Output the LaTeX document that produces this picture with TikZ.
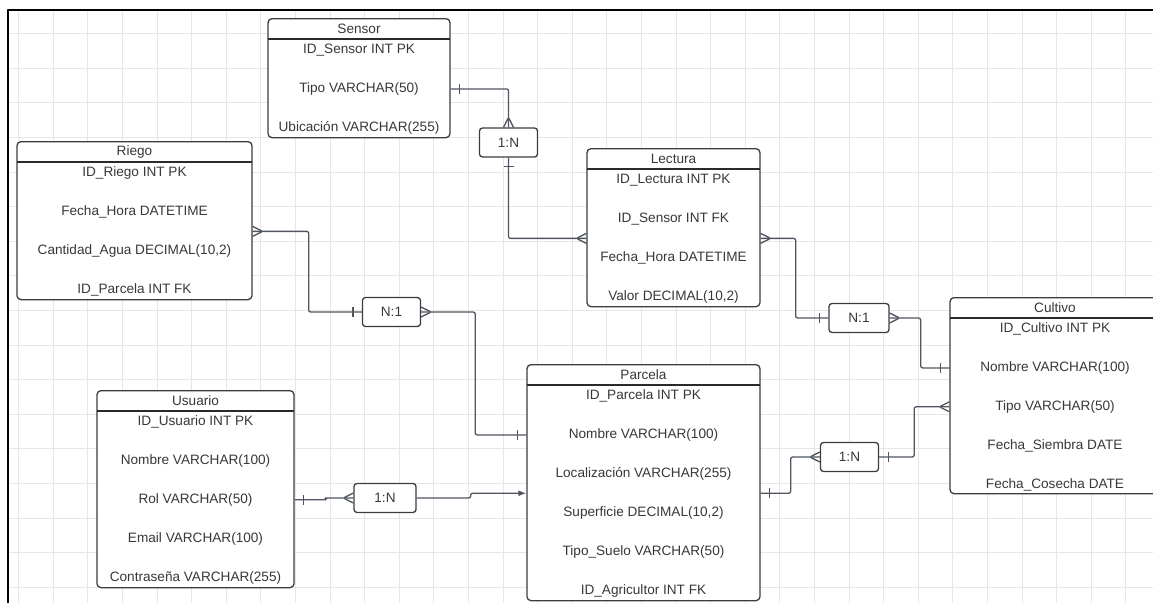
\documentclass[tikz,border=0pt]{standalone}
\usepackage{fontspec}
\setmainfont{Liberation Sans}
\usetikzlibrary{arrows.meta,calc,decorations.markings}

\definecolor{erframe}{HTML}{3C3C3C}
\definecolor{erheader}{HTML}{2A2A2A}
\definecolor{ertext}{HTML}{383838}
\definecolor{erlink}{HTML}{4F5560}
\definecolor{ergrid}{HTML}{E6E6E6}

\begin{document}
\begin{tikzpicture}[
  x=1pt,
  y=-1pt,
  line join=round,
  pageborder/.style={draw=black,line width=2.6},
  gridline/.style={draw=ergrid,line width=0.8},
  entity/.style={draw=erframe,fill=white,line width=1.3,rounded corners=4,anchor=north,inner sep=0},
  headline/.style={draw=erheader,line width=1.8},
  field/.style={text=ertext,font=\fontsize{13.6}{16}\selectfont,inner sep=0},
  rel/.style={draw=erframe,fill=white,line width=1.3,rounded corners=3,minimum width=58,minimum height=29,inner sep=0,text=ertext,font=\fontsize{13.6}{16}\selectfont},
  link/.style={draw=erlink,line width=1.3,rounded corners=2},
  tick/.style={draw=erlink,line width=1.3},
  startBar/.style={postaction={decorate,decoration={markings,mark=at position 9pt with {\draw[tick] (0,-5pt) -- (0,5pt);}}}},
  endBar/.style={postaction={decorate,decoration={markings,mark=at position -9pt with {\draw[tick] (0,-5pt) -- (0,5pt);}}}},
  startCrow/.style={postaction={decorate,decoration={markings,mark=at position 10pt with {\draw[tick] (-10pt,5pt) -- (0,0) -- (-10pt,-5pt);}}}},
  endCrow/.style={postaction={decorate,decoration={markings,mark=at position -10pt with {\draw[tick] (10pt,5pt) -- (0,0) -- (10pt,-5pt);}}}}
]
  % Keep the cropped screenshot frame.
  \useasboundingbox (0,0) rectangle (1153,603);
  \clip (0,0) rectangle (1153,603);

  % Light background grid of the drawing canvas.
  \foreach \k in {0,...,33}
    \draw[gridline] (18.5+34.6*\k,10) -- (18.5+34.6*\k,603);
  \foreach \k in {1,...,17}
    \draw[gridline] (8,-1+34.6*\k) -- (1153,-1+34.6*\k);
  \draw[pageborder] (8,603) -- (8,10) -- (1153,10);

  % Sensor table
  \node[entity,minimum width=182,minimum height=119] (sensor) at (359,18) {};
  \node[field] (sensorTitle) at (359,28.5) {Sensor};
  \draw[headline] (268,39) -- (450,39);
  \foreach \txt [count=\i from 0] in {ID\_Sensor INT PK,Tipo VARCHAR(50),Ubicación VARCHAR(255)}
    \node[field] (sensorRow\i) at (359,50+38.9*\i) {\txt};

  % Riego table
  \node[entity,minimum width=235,minimum height=158] (riego) at (134.5,141) {};
  \node[field] (riegoTitle) at (134.5,151.5) {Riego};
  \draw[headline] (17,162) -- (252,162);
  \foreach \txt [count=\i from 0] in {ID\_Riego INT PK,Fecha\_Hora DATETIME,{Cantidad\_Agua DECIMAL(10,2)},ID\_Parcela INT FK}
    \node[field] (riegoRow\i) at (134.5,173+38.9*\i) {\txt};

  % Lectura table
  \node[entity,minimum width=173,minimum height=158] (lectura) at (673.5,148) {};
  \node[field] (lecturaTitle) at (673.5,158.5) {Lectura};
  \draw[headline] (587,169) -- (760,169);
  \foreach \txt [count=\i from 0] in {ID\_Lectura INT PK,ID\_Sensor INT FK,Fecha\_Hora DATETIME,{Valor DECIMAL(10,2)}}
    \node[field] (lecturaRow\i) at (673.5,180+38.9*\i) {\txt};

  % Cultivo table (runs past the right edge)
  \node[entity,minimum width=210,minimum height=196] (cultivo) at (1055,297) {};
  \node[field] (cultivoTitle) at (1055,307.5) {Cultivo};
  \draw[headline] (950,318) -- (1160,318);
  \foreach \txt [count=\i from 0] in {ID\_Cultivo INT PK,Nombre VARCHAR(100),Tipo VARCHAR(50),Fecha\_Siembra DATE,Fecha\_Cosecha DATE}
    \node[field] (cultivoRow\i) at (1055,329+38.9*\i) {\txt};

  % Parcela table
  \node[entity,minimum width=233,minimum height=236] (parcela) at (643.5,364) {};
  \node[field] (parcelaTitle) at (643.5,374.5) {Parcela};
  \draw[headline] (527,385) -- (760,385);
  \foreach \txt [count=\i from 0] in {ID\_Parcela INT PK,Nombre VARCHAR(100),Localización VARCHAR(255),{Superficie DECIMAL(10,2)},Tipo\_Suelo VARCHAR(50),ID\_Agricultor INT FK}
    \node[field] (parcelaRow\i) at (643.5,396+38.9*\i) {\txt};

  % Usuario table
  \node[entity,minimum width=197,minimum height=197] (usuario) at (195.5,390) {};
  \node[field] (usuarioTitle) at (195.5,400.5) {Usuario};
  \draw[headline] (97,411) -- (294,411);
  \foreach \txt [count=\i from 0] in {ID\_Usuario INT PK,Nombre VARCHAR(100),Rol VARCHAR(50),Email VARCHAR(100),Contraseña VARCHAR(255)}
    \node[field] (usuarioRow\i) at (195.5,422+38.9*\i) {\txt};

  % Attachment points between two rows.
  \coordinate (riegoMid) at ($(riegoRow1)!.5!(riegoRow2)$);
  \coordinate (lecturaMid) at ($(lecturaRow1)!.5!(lecturaRow2)$);
  \coordinate (parcelaMid) at ($(parcelaRow2)!.5!(parcelaRow3)$);

  % Cardinality boxes
  \node[rel] (relSensor) at (508.5,142.5) {1:N};
  \node[rel] (relRiego) at (391.5,312) {N:1};
  \node[rel,minimum width=60] (relLectura) at (859,318) {N:1};
  \node[rel,minimum width=62] (relUsuario) at (385,498) {1:N};
  \node[rel] (relParcela) at (849.5,457) {1:N};

  % Connectors: bar = one, crow's foot = many.
  \draw[link,startBar,endCrow] (sensorRow1 -| sensor.east) -| (relSensor.north);
  \draw[link,startBar,endCrow] (relSensor.south) |- (lecturaMid -| lectura.west);
  \draw[link,startCrow,endBar] (riegoMid -| riego.east) -- ++(56,0) |- (relRiego.west);
  \draw[link,startCrow,endBar] (relRiego.east) -- ++(54,0) |- (parcelaRow1 -| parcela.west);
  \draw[link,startCrow,endBar] (lecturaMid -| lectura.east) -- ++(35,0) |- (relLectura.west);
  \draw[link,startCrow,endBar] (relLectura.east) -- ++(31,0) |- (cultivoRow1 -| cultivo.west);
  \draw[link,startBar,endCrow] (usuarioRow2 -| usuario.east) -- ++(31,0) |- (relUsuario.west);
  \draw[link,-{Latex[length=8pt,width=6pt]}] (relUsuario.east) -- ++(54,0) |- (parcelaMid -| parcela.west);
  \draw[link,startBar,endCrow] (parcelaMid -| parcela.east) -- ++(30,0) |- (relParcela.west);
  \draw[link,startBar,endCrow] (relParcela.east) -- ++(35,0) |- (cultivoRow2 -| cultivo.west);
\end{tikzpicture}
\end{document}
